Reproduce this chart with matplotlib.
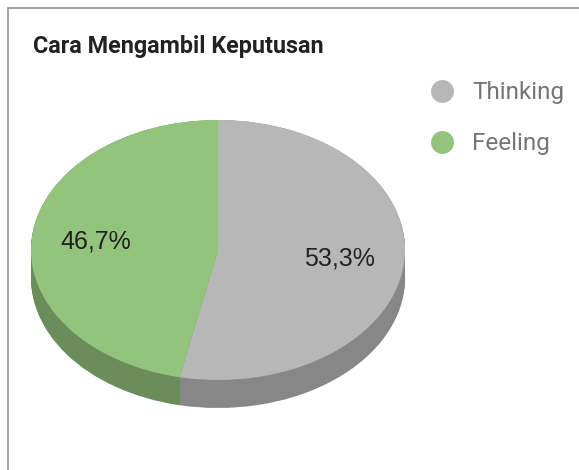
import matplotlib.pyplot as plt
from matplotlib.lines import Line2D
from matplotlib.patches import Rectangle

# data
labels = ['Thinking', 'Feeling']
values = [53.3, 46.7]
top_colors = ['#b7b7b7', '#93c47d']
side_colors = ['#878787', '#6a8d5a']
title = 'Cara Mengambil Keputusan'

W, H = 579, 470
fig = plt.figure(figsize=(W / 100, H / 100), dpi=100)
fig.patch.set_facecolor('white')

# card border (top and left edges visible)
fig.patches.append(Rectangle((8 / W, -0.1), 1.2, 1 - 8 / H + 0.1,
                             transform=fig.transFigure, fill=False,
                             edgecolor='#9a9a9a', linewidth=1.3))

# pie geometry in pixels
cx, cy, a, b, depth = 218, 250, 187, 130, 28
d = depth / b
ax = fig.add_axes([(cx - a) / W, (H - (cy + b + depth)) / H,
                   2 * a / W, (2 * b + depth) / H])

# side: stack of darker pies shifted downward
n = depth
for k in range(n + 1):
    off = -d * (1 - k / n)
    ax.pie(values, colors=side_colors, startangle=90, counterclock=False,
           center=(0, off), wedgeprops=dict(linewidth=0, antialiased=True))

# top face with labels
wedges, texts, autotexts = ax.pie(
    values, colors=top_colors, startangle=90, counterclock=False,
    autopct=lambda p: f'{p:.1f}%'.replace('.', ','), pctdistance=0.655,
    wedgeprops=dict(linewidth=0),
    textprops=dict(fontsize=18, color='#222222', family='Liberation Sans'))

ax.set_aspect('auto')
ax.set_xlim(-1, 1)
ax.set_ylim(-1 - d, 1)
ax.axis('off')

fig.text(33 / W, 1 - 47 / H, title, fontsize=16.8, fontweight='bold',
         family='Roboto', color='#222222', va='center', ha='left')

handles = [Line2D([], [], marker='o', linestyle='', markersize=16.5,
                  markerfacecolor=c, markeredgewidth=0) for c in top_colors]
fs = 24.3
fig.legend(handles, labels, loc='upper left',
           bbox_to_anchor=((442 - 0.6 * fs) / W, 1 - 81.5 / H),
           frameon=False, borderpad=0, borderaxespad=0,
           handlelength=1.2, handletextpad=0.63, labelspacing=1.15,
           prop=dict(family='Roboto', size=fs * 0.72), labelcolor='#757575')

fig.savefig('out.png', dpi=100, facecolor='white')
